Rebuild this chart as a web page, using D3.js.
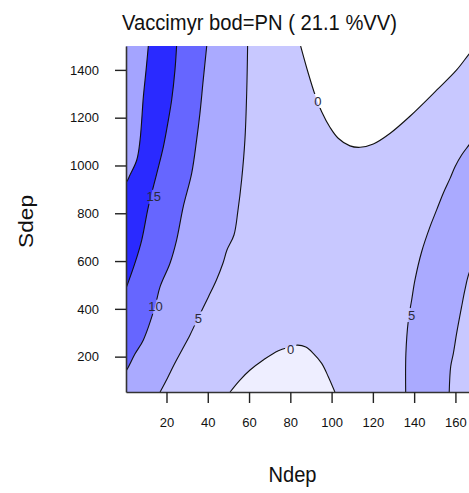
<!DOCTYPE html>
<html>
<head>
<meta charset="utf-8">
<script src="https://cdn.jsdelivr.net/npm/d3@7"></script>
<style>
  html, body { margin: 0; padding: 0; background: #fff; }
  svg { display: block; font-family: "Liberation Sans", Arial, sans-serif; }
</style>
</head>
<body>
<svg id="chart" width="469" height="493"></svg>
<script>
// ---- chart text ----
const titleText = "Vaccimyr bod=PN ( 21.1 %VV)";
const xTitle = "Ndep";
const yTitle = "Sdep";

// ---- axes ----
const ndepDomain = [0.38, 180];
const sdepDomain = [52, 1500];
const ndepTicks = [20, 40, 60, 80, 100, 120, 140, 160];
const sdepTicks = [200, 400, 600, 800, 1000, 1200, 1400];

// ---- contour lines, as [Ndep, Sdep] points ----
const contour20 = [[11.2,1500],[10.1,1399],[8.8,1288],[7.2,1107],[5.6,1023],[2.3,960],[0.7,932],[-1,922]];
const contour15 = [[24.9,1500],[24.1,1399],[22.5,1274],[20.9,1190],[18.5,1079],[15.3,967],[11.2,827],[8.0,688],[4.7,591],[0.7,493],[-1,455]];
const contour10 = [[39.5,1500],[37.8,1358],[36.2,1218],[34.6,1107],[32.2,967],[28.1,827],[24.9,688],[21.7,591],[16.9,493],[14.4,409],[8.8,270],[4.7,211],[0.7,144],[-1,125]];
const contour5Left = [[59.3,1500],[58.9,1316],[58.0,1107],[56.4,939],[54.6,810],[52.7,709],[49.3,646],[47.4,592],[44.2,521],[40.3,450],[35.3,362],[31.4,291],[27.5,228],[23.6,165],[20.5,111],[16.9,52]];
const contour0Bottom = [[50.8,52],[55.6,102],[60.5,144],[66.9,186],[74.2,225],[79.8,240],[83.5,248],[87.5,240],[91.1,214],[95.2,172],[98.4,116],[101.6,52]];
const contour0Top = [[85.0,1500],[88.7,1386],[92.0,1295],[95.2,1225],[99.2,1160],[103.2,1114],[108.9,1082],[113.8,1076],[120.2,1090],[128.4,1135],[138.1,1207],[151.0,1316],[160.6,1400],[166.2,1462],[171.9,1525]];
const contour5Right = [[135.9,52],[136.0,214],[137.2,353],[138.8,437],[140.4,521],[143.6,638],[147.7,744],[150.9,814],[154.1,884],[157.4,946],[159.8,995],[163.0,1044],[166.6,1086],[171.9,1148],[176.7,1199]];
const contour5RightOuter = [[157.0,52],[157.7,158],[159.0,214],[160.6,298],[163.0,409],[164.6,479],[166.6,549],[171.9,646],[176.7,730]];

// ---- contour labels ----
const labelText = ["15", "10", "5", "0", "0", "5"];
const labelNdep = [13.8, 14.7, 35.4, 80.2, 93.3, 138.8];
const labelSdep = [869, 409, 360, 231, 1270, 374];

// ---- fill colours per band ----
const fills = {
  lowUpper: "#ffffff",
  lowLower: "#eeeeff",
  b0to5: "#c8c8ff",
  b5to10: "#aaaaff",
  b10to15: "#6666ff",
  b15to20: "#2a2aff",
  above20: "#a4a4ff"
};

const svg = d3.select("#chart");
const plot = { left: 126, right: 496.7, top: 46, bottom: 392 };

const x = d3.scaleLinear().domain(ndepDomain).range([plot.left, plot.right]);
const y = d3.scaleLinear().domain(sdepDomain).range([plot.bottom, plot.top]);

const line = d3.line()
  .x(d => x(d[0]))
  .y(d => y(d[1]))
  .curve(d3.curveCatmullRom.alpha(0.5));

const lineTo = pts => pts.map(p => `L${x(p[0])},${y(p[1])}`).join("");

// region to the left of a line that runs from the top edge down to the left/bottom edge
function leftRegion(pts) {
  const first = pts[0], last = pts[pts.length - 1];
  return line(pts) + lineTo([[last[0], -200], [-50, -200], [-50, 2000], [first[0], 2000]]) + "Z";
}

const defs = svg.append("defs");
defs.append("clipPath").attr("id", "plotClip")
  .append("rect")
  .attr("x", plot.left).attr("y", plot.top)
  .attr("width", plot.right - plot.left).attr("height", plot.bottom - plot.top);

// gaps in the contour lines under their labels
const mask = defs.append("mask").attr("id", "labelGaps")
  .attr("maskUnits", "userSpaceOnUse")
  .attr("x", 0).attr("y", 0).attr("width", 600).attr("height", 600);
mask.append("rect").attr("x", 0).attr("y", 0).attr("width", 600).attr("height", 600).attr("fill", "#fff");
labelText.forEach((t, i) => {
  const w = t.length * 7.2 + 4;
  mask.append("rect")
    .attr("x", x(labelNdep[i]) - w / 2).attr("y", y(labelSdep[i]) - 7)
    .attr("width", w).attr("height", 14)
    .attr("fill", "#000");
});

const fillG = svg.append("g").attr("clip-path", "url(#plotClip)");

// base band (0 to 5)
fillG.append("rect")
  .attr("x", plot.left).attr("y", plot.top)
  .attr("width", plot.right - plot.left).attr("height", plot.bottom - plot.top)
  .attr("fill", fills.b0to5);

// low basin at high Sdep
fillG.append("path")
  .attr("d", line(contour0Top) + lineTo([[200, 2000], [contour0Top[0][0], 2000]]) + "Z")
  .attr("fill", fills.lowUpper);

// low dome near the Ndep axis
fillG.append("path")
  .attr("d", line(contour0Bottom) + lineTo([[101.6, -200], [50.8, -200]]) + "Z")
  .attr("fill", fills.lowLower);

// ridge on the right (5 to 10)
const outerRev = contour5RightOuter.slice().reverse();
fillG.append("path")
  .attr("d", line(contour5Right) + lineTo([[200, 1199], [200, 730]]) + line(outerRev).replace(/^M/, "L") +
    lineTo([[157.0, -200], [135.9, -200]]) + "Z")
  .attr("fill", fills.b5to10);

// bands on the left
[[contour5Left, fills.b5to10], [contour10, fills.b10to15], [contour15, fills.b15to20], [contour20, fills.above20]]
  .forEach(([pts, c]) => {
    fillG.append("path").attr("d", leftRegion(pts)).attr("fill", c);
  });

// contour lines
const lineG = svg.append("g").attr("clip-path", "url(#plotClip)")
  .append("g").attr("mask", "url(#labelGaps)");
[contour20, contour15, contour10, contour5Left, contour0Bottom, contour0Top, contour5Right, contour5RightOuter]
  .forEach(pts => {
    lineG.append("path")
      .attr("d", line(pts))
      .attr("fill", "none")
      .attr("stroke", "#111")
      .attr("stroke-width", 1.1);
  });

// contour labels
svg.append("g").selectAll("text")
  .data(labelText)
  .join("text")
  .attr("x", (d, i) => x(labelNdep[i]))
  .attr("y", (d, i) => y(labelSdep[i]))
  .attr("dy", "0.36em")
  .attr("text-anchor", "middle")
  .attr("font-size", 13)
  .attr("fill", "#2a2a3a")
  .text(d => d);

// axes
const yAxis = svg.append("g")
  .attr("transform", `translate(${plot.left},0)`)
  .call(d3.axisLeft(y).tickValues(sdepTicks).tickSize(11).tickSizeOuter(0).tickPadding(16).tickFormat(d3.format("d")));
const xAxis = svg.append("g")
  .attr("transform", `translate(0,${plot.bottom})`)
  .call(d3.axisBottom(x).tickValues(ndepTicks).tickSize(11).tickSizeOuter(0).tickPadding(14.5).tickFormat(d3.format("d")));

[yAxis, xAxis].forEach(g => {
  g.attr("font-family", null).attr("font-size", null);
  g.select(".domain").attr("stroke", "#333").attr("stroke-width", 1.6);
  g.selectAll(".tick line").attr("stroke", "#222").attr("stroke-width", 1.4);
  g.selectAll(".tick text").attr("font-size", 13).attr("fill", "#111")
    .attr("font-family", "'Liberation Sans', Arial, sans-serif");
});

// titles
svg.append("text")
  .attr("x", 259.5).attr("y", 29.5)
  .attr("text-anchor", "middle")
  .attr("font-size", 22)
  .attr("textLength", 275).attr("lengthAdjust", "spacingAndGlyphs")
  .attr("fill", "#111")
  .text(titleText);

svg.append("text")
  .attr("x", 292.5).attr("y", 481.7)
  .attr("text-anchor", "middle")
  .attr("font-size", 22)
  .attr("textLength", 48).attr("lengthAdjust", "spacingAndGlyphs")
  .attr("fill", "#111")
  .text(xTitle);

svg.append("text")
  .attr("transform", "translate(33.3,221.5) rotate(-90)")
  .attr("text-anchor", "middle")
  .attr("font-size", 21)
  .attr("textLength", 53).attr("lengthAdjust", "spacingAndGlyphs")
  .attr("fill", "#111")
  .text(yTitle);
</script>
</body>
</html>
